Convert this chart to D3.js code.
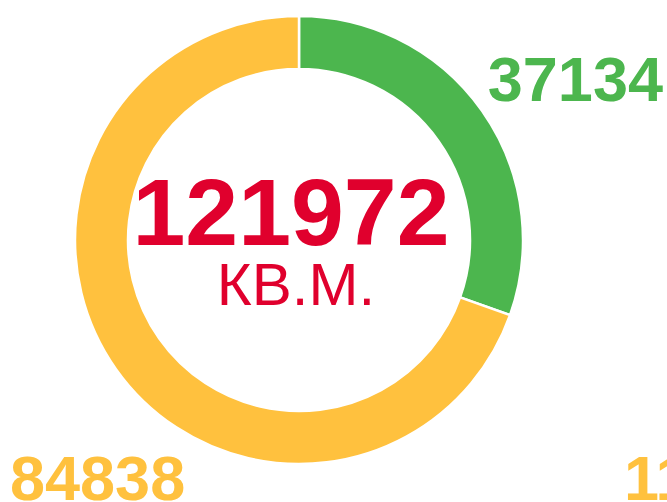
<!DOCTYPE html>
<html>
<head>
<meta charset="utf-8">
<script src="https://cdn.jsdelivr.net/npm/d3@7"></script>
<style>
  body { margin: 0; background: #fff; }
  svg { display: block; font-family: "Liberation Sans", Arial, sans-serif; }
</style>
</head>
<body>
<div class="canvas"></div>
<script>
var names = ["green", "yellow"];
var values = [37134, 84838];
var colors = ["#4cb64e", "#ffc13e"];
var totalLabel = "121972";
var unitLabel = "КВ.М.";
var strayLabel = "11";

var width = 667, height = 502;
var cx = 299, cy = 240, outerR = 224, innerR = 171;

var svg = d3.select(".canvas").append("svg")
    .attr("width", width)
    .attr("height", height);

var pie = d3.pie().sort(null)(values);
var arc = d3.arc().innerRadius(innerR).outerRadius(outerR);

var g = svg.append("g").attr("transform", "translate(" + cx + "," + cy + ")");
g.selectAll("path")
    .data(pie)
    .enter().append("path")
    .attr("d", arc)
    .attr("fill", function (d, i) { return colors[i]; })
    .attr("stroke", "#fff")
    .attr("stroke-width", 2.5);

// value labels
svg.append("text")
    .attr("x", 663).attr("y", 101)
    .attr("text-anchor", "end")
    .attr("font-size", 63).attr("font-weight", "bold")
    .attr("fill", colors[0])
    .text(values[0]);

svg.append("text")
    .attr("x", 10).attr("y", 500)
    .attr("font-size", 63).attr("font-weight", "bold")
    .attr("fill", colors[1])
    .text(values[1]);

svg.append("text")
    .attr("x", 624).attr("y", 500)
    .attr("font-size", 63).attr("font-weight", "bold")
    .attr("fill", colors[1])
    .text(strayLabel);

// center total
svg.append("text")
    .attr("x", 291).attr("y", 245)
    .attr("text-anchor", "middle")
    .attr("font-size", 95).attr("font-weight", "bold")
    .attr("fill", "#e0002d")
    .text(totalLabel);

svg.append("text")
    .attr("x", 296).attr("y", 305)
    .attr("text-anchor", "middle")
    .attr("font-size", 60)
    .attr("fill", "#e0002d")
    .text(unitLabel);
</script>
</body>
</html>
